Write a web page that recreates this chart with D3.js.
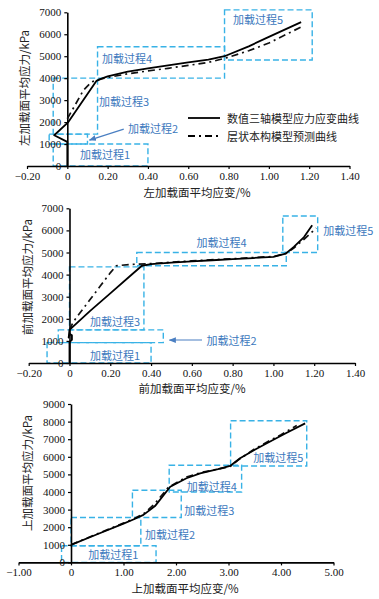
<!DOCTYPE html>
<html>
<head>
<meta charset="utf-8">
<script src="https://cdn.jsdelivr.net/npm/d3@7"></script>
<style>
  body { margin: 0; background: #fff; }
</style>
</head>
<body>
<div id="chart"></div>
<script>
// ---- data ----
const xTicksLR = [-0.2, 0, 0.2, 0.4, 0.6, 0.8, 1.0, 1.2, 1.4];
const xTicksTop = [-1, 0, 1, 2, 3, 4, 5];
const yTicks7 = [0, 1000, 2000, 3000, 4000, 5000, 6000, 7000];
const yTicks9 = [0, 1000, 2000, 3000, 4000, 5000, 6000, 7000, 8000, 9000];

const seriesNames = ["数值三轴模型应力应变曲线", "层状本构模型预测曲线"];
const stageNames = ["加载过程1", "加载过程2", "加载过程3", "加载过程4", "加载过程5"];

// left loading face [strain %, stress kPa]
const leftNumerical = [[0, 0], [0, 1100], [-0.065, 1400], [0.005, 2000], [0.145, 3880], [0.17, 3980],
  [0.2, 4080], [0.3, 4300], [0.4, 4450], [0.5, 4580], [0.6, 4720], [0.7, 4840], [0.78, 5000],
  [0.9, 5450], [1.0, 5880], [1.16, 6550]];
const leftLayered = [[0, 2150], [0.04, 2800], [0.08, 3450], [0.12, 3830], [0.16, 3950], [0.2, 4030],
  [0.3, 4200], [0.4, 4330], [0.5, 4450], [0.6, 4580], [0.7, 4720], [0.78, 4900], [0.9, 5250],
  [1.0, 5600], [1.175, 6400]];
// stage boxes [x0, x1, y0, y1]
const leftBoxes = [[-0.07, 0.40, 0, 1000], [-0.09, 0.10, 1000, 1450], [-0.07, 0.15, 1450, 4000],
  [0.15, 0.78, 4000, 5430], [0.78, 1.215, 4830, 7110]];
const leftLabels = [[0.187, 545], [0.425, 1727], [0.281, 2955], [0.296, 4910], [0.946, 6680]];
const leftArrow = [[0.28, 1680], [0.11, 1180]];

// front loading face
const frontNumerical = [[0, 0], [0, 950], [0.012, 1050], [0.012, 1250], [0, 1320], [-0.004, 1150],
  [0, 1500], [0.1, 2350], [0.2, 3150], [0.3, 3960], [0.355, 4400], [0.4, 4470], [0.5, 4540],
  [0.6, 4600], [0.7, 4650], [0.8, 4700], [0.9, 4750], [1.0, 4800], [1.06, 4950], [1.1, 5250],
  [1.15, 5700], [1.19, 6230]];
const frontLayered = [[0, 1500], [0.019, 1870], [0.1, 2860], [0.15, 3470], [0.2, 4080], [0.23, 4400],
  [0.3, 4460], [0.4, 4500], [0.6, 4620], [0.8, 4720], [1.0, 4820], [1.06, 4950], [1.1, 5200],
  [1.15, 5600], [1.21, 6100]];
const frontBoxes = [[-0.11, 0.40, 0, 920], [-0.055, 0.46, 920, 1500], [0, 0.365, 1500, 4350],
  [0.33, 1.063, 4400, 5000], [1.046, 1.217, 5000, 6650]];
const frontLabels = [[0.223, 362], [0.795, 1040], [0.223, 1900], [0.746, 5490], [1.367, 6020]];
const frontArrow = [[0.65, 1040], [0.49, 1040]];

// top loading face
const topNumerical = [[0, 1000], [0.5, 1600], [1.0, 2200], [1.2, 2450], [1.38, 2700], [1.6, 3200],
  [1.89, 4300], [2.2, 4780], [2.46, 5060], [2.8, 5300], [3.03, 5480], [3.22, 5920], [3.5, 6400],
  [3.73, 6770], [4.1, 7350], [4.46, 7900]];
const topLayered = [[0, 1000], [0.5, 1620], [1.0, 2230], [1.2, 2480], [1.4, 2800], [1.6, 3350],
  [1.85, 4250], [2.2, 4850], [2.5, 5120], [2.8, 5300], [3.03, 5450], [3.2, 5850], [3.5, 6450],
  [3.8, 6950], [4.0, 7250], [4.3, 7780]];
const topBoxes = [[-0.18, 1.62, 0, 950], [0, 1.33, 950, 2550], [1.17, 2.1, 2550, 4100],
  [1.87, 3.25, 4000, 5520], [3.04, 4.49, 5480, 8050]];
const topLabels = [[0.806, 477], [1.886, 1597], [2.634, 2977], [2.68, 4358], [3.95, 6006]];

// ---- layout ----
const width = 379;
const height = 599;
const SERIF = "'Liberation Serif','Times New Roman',serif";
const CJK = "'Noto Sans CJK SC','Noto Sans CJK JP',sans-serif";
const BOX_COLOR = "#38b2e6";
const LABEL_COLOR = "#3b78bd";

const fmt2 = d => d === 0 ? "0" : (d < 0 ? "\u2212" + Math.abs(d).toFixed(2) : d.toFixed(2));

const panels = [
  { xDomain: [-0.2, 1.4], xRange: [27, 349.5], yDomain: [0, 7000], yRange: [166, 12.3],
    xTicks: xTicksLR, yTicks: yTicks7, numerical: leftNumerical, layered: leftLayered,
    boxes: leftBoxes, labels: leftLabels, arrow: leftArrow,
    xTitle: "左加载面平均应变/%", yTitle: "左加载面平均应力/kPa",
    xTitlePos: [197, 197], yTitlePos: [24, 88], legend: [188, 118] },
  { xDomain: [-0.2, 1.4], xRange: [28.7, 355], yDomain: [0, 7000], yRange: [363, 208.3],
    xTicks: xTicksLR, yTicks: yTicks7, numerical: frontNumerical, layered: frontLayered,
    boxes: frontBoxes, labels: frontLabels, arrow: frontArrow,
    xTitle: "前加载面平均应变/%", yTitle: "前加载面平均应力/kPa",
    xTitlePos: [192, 393], yTitlePos: [27, 277] },
  { xDomain: [-1, 5], xRange: [18.5, 333.5], yDomain: [0, 9000], yRange: [562.4, 404],
    xTicks: xTicksTop, yTicks: yTicks9, numerical: topNumerical, layered: topLayered,
    boxes: topBoxes, labels: topLabels,
    xTitle: "上加载面平均应变/%", yTitle: "上加载面平均应力/kPa",
    xTitlePos: [185, 593], yTitlePos: [27, 473] }
];

const svg = d3.select("#chart")
    .append("svg")
    .attr("width", width)
    .attr("height", height);

svg.append("defs").append("marker")
    .attr("id", "arrow")
    .attr("viewBox", "0 0 10 10")
    .attr("refX", 9).attr("refY", 5)
    .attr("markerWidth", 6).attr("markerHeight", 6)
    .attr("orient", "auto")
  .append("path")
    .attr("d", "M0,1L10,5L0,9Z")
    .attr("fill", "#4a7fc2");

panels.forEach(p => {
  const x = d3.scaleLinear().domain(p.xDomain).range(p.xRange);
  const y = d3.scaleLinear().domain(p.yDomain).range(p.yRange);
  const g = svg.append("g");

  // dashed stage boxes
  g.selectAll("rect.stage")
      .data(p.boxes)
      .enter()
      .append("rect")
      .attr("class", "stage")
      .attr("x", d => x(d[0]))
      .attr("y", d => y(d[3]))
      .attr("width", d => x(d[1]) - x(d[0]))
      .attr("height", d => y(d[2]) - y(d[3]))
      .attr("fill", "none")
      .attr("stroke", BOX_COLOR)
      .attr("stroke-width", 1.4)
      .attr("stroke-dasharray", "6,3");

  // axes
  const xAxis = g.append("g")
      .attr("transform", `translate(0,${y(0)})`)
      .call(d3.axisBottom(x).tickValues(p.xTicks).tickSize(3).tickSizeOuter(0)
        .tickFormat(p.xDomain[1] > 2 ? fmt2 : fmt2).tickPadding(3));
  const yAxis = g.append("g")
      .attr("transform", `translate(${x(0)},0)`)
      .call(d3.axisLeft(y).tickValues(p.yTicks).tickSize(3).tickSizeOuter(0)
        .tickFormat(d3.format("d")).tickPadding(3));

  [xAxis, yAxis].forEach(a => {
    a.attr("font-family", SERIF).attr("font-size", 11);
    a.select(".domain").attr("stroke", "#000").attr("stroke-width", 1.6);
    a.selectAll(".tick line").attr("stroke", "#000").attr("stroke-width", 1.2);
    a.selectAll(".tick text").attr("fill", "#111");
  });

  // curves
  const line = d3.line().x(d => x(d[0])).y(d => y(d[1]));
  g.append("path")
      .attr("d", line(p.layered))
      .attr("fill", "none")
      .attr("stroke", "#111")
      .attr("stroke-width", 1.7)
      .attr("stroke-dasharray", "7,4,2,4");
  g.append("path")
      .attr("d", line(p.numerical))
      .attr("fill", "none")
      .attr("stroke", "#000")
      .attr("stroke-width", 1.8)
      .attr("stroke-linejoin", "round");

  // stage labels
  g.selectAll("text.stage")
      .data(p.labels)
      .enter()
      .append("text")
      .attr("class", "stage")
      .attr("x", d => x(d[0]))
      .attr("y", d => y(d[1]))
      .attr("text-anchor", "middle")
      .attr("dominant-baseline", "central")
      .attr("font-family", CJK)
      .attr("font-size", 11)
      .attr("fill", LABEL_COLOR)
      .text((d, i) => stageNames[i]);

  if (p.arrow) {
    g.append("line")
        .attr("x1", x(p.arrow[0][0])).attr("y1", y(p.arrow[0][1]))
        .attr("x2", x(p.arrow[1][0])).attr("y2", y(p.arrow[1][1]))
        .attr("stroke", "#4a7fc2")
        .attr("stroke-width", 1.2)
        .attr("marker-end", "url(#arrow)");
  }

  // axis titles
  g.append("text")
      .attr("x", p.xTitlePos[0])
      .attr("y", p.xTitlePos[1])
      .attr("text-anchor", "middle")
      .attr("font-family", CJK)
      .attr("font-size", 11.5)
      .attr("fill", "#222")
      .text(p.xTitle);
  g.append("text")
      .attr("transform", `translate(${p.yTitlePos[0]},${p.yTitlePos[1]}) rotate(-90)`)
      .attr("text-anchor", "middle")
      .attr("dominant-baseline", "central")
      .attr("font-family", CJK)
      .attr("font-size", 11.5)
      .attr("fill", "#222")
      .text(p.yTitle);

  // legend (first panel only)
  if (p.legend) {
    const [lx, ly] = p.legend;
    const leg = g.append("g").attr("transform", `translate(${lx},${ly})`);
    [0, 1].forEach(i => {
      leg.append("line")
          .attr("x1", 0).attr("x2", 32)
          .attr("y1", i * 18).attr("y2", i * 18)
          .attr("stroke", "#000")
          .attr("stroke-width", 1.8)
          .attr("stroke-dasharray", i ? "7,4,2,4" : null);
      leg.append("text")
          .attr("x", 39)
          .attr("y", i * 18)
          .attr("dominant-baseline", "central")
          .attr("font-family", CJK)
          .attr("font-size", 11)
          .attr("fill", "#222")
          .text(seriesNames[i]);
    });
  }
});
</script>
</body>
</html>
